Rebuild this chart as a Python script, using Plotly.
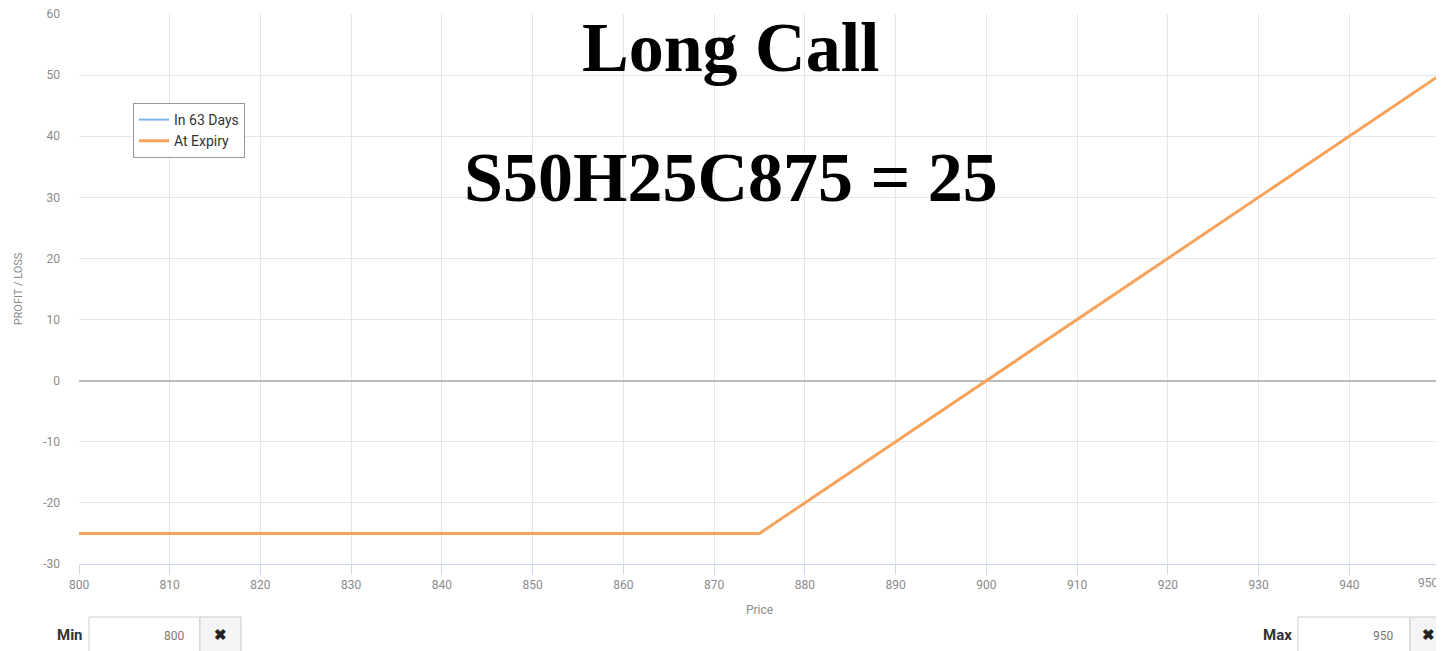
import plotly.graph_objects as go

# at-expiry payoff of the long call, strike 875, premium 25
price = [800, 875, 950]
at_expiry = [-25, -25, 50]
x_ticks = [800, 810, 820, 830, 840, 850, 860, 870, 880, 890, 900, 910, 920, 930, 940, 950]
x_tick_text = [str(v) for v in x_ticks]
y_ticks = [-30, -20, -10, 0, 10, 20, 30, 40, 50, 60]
y_tick_text = ["-30", "-20", "-10", "0", "10", "20", "30", "40", "50", "60"]

# the page body has an 8px margin, so the figure sits at (8, 8) in the window
OFF = 8
W, H = 1444 - OFF, 651 - OFF
L, R, T, B = 79 - OFF, 4, 14 - OFF, 87
PW, PH = W - L - R, H - T - B

narrow = "Liberation Sans Narrow, Arial Narrow, Roboto, sans-serif"
tick_font = dict(family=narrow, size=12, color="#8a8a8a")


def pxx(x):
    # window pixel -> paper fraction
    return (x - OFF - L) / PW


def pxy(y):
    return 1 - (y - OFF - T) / PH


fig = go.Figure()

fig.add_trace(go.Scatter(
    x=[None], y=[None],
    name="In 63 Days",
    mode="lines",
    line=dict(color="#7cb5ec", width=2),
))
fig.add_trace(go.Scatter(
    x=price, y=at_expiry,
    name="At Expiry",
    mode="lines",
    line=dict(color="#f7a35c", width=3),
))

fig.update_layout(
    width=W, height=H,
    margin=dict(l=L, r=R, t=T, b=B),
    plot_bgcolor="white",
    paper_bgcolor="white",
    showlegend=True,
    legend=dict(
        x=pxx(133), y=pxy(103), xanchor="left", yanchor="top",
        bordercolor="#999999", borderwidth=1, bgcolor="white",
        font=dict(family=narrow, size=14, color="#333333"),
        tracegroupgap=0, itemwidth=30,
    ),
)

title_font = dict(family="Liberation Serif, Times New Roman, serif", size=70, color="black")
fig.add_annotation(text="<b>Long Call</b>", x=pxx(731), y=pxy(48), xref="paper", yref="paper",
                   xanchor="center", yanchor="middle", showarrow=False, font=title_font)
fig.add_annotation(text="<b>S50H25C875 = 25</b>", x=pxx(731), y=pxy(178), xref="paper", yref="paper",
                   xanchor="center", yanchor="middle", showarrow=False, font=title_font)

# last x label is pulled inside the edge, like the original chart does
fig.add_annotation(text=x_tick_text[-1], x=x_ticks[-1], xref="x", xanchor="right",
                   y=pxy(583), yref="paper", yanchor="middle", showarrow=False, font=tick_font)

fig.update_xaxes(
    range=[800, 950],
    tickvals=x_ticks[:-1], ticktext=x_tick_text[:-1],
    tickfont=tick_font, ticklabeloverflow="allow",
    showgrid=True, gridcolor="#e6e6e6", gridwidth=1,
    showline=True, linecolor="#ccd6eb", linewidth=1,
    ticks="outside", ticklen=10, tickcolor="#ccd6eb",
    zeroline=False, automargin=False,
    title=dict(text="Price", font=dict(family=narrow, size=12, color="#8a8a8a"), standoff=14),
)
fig.update_yaxes(
    range=[-30, 60],
    tickvals=y_ticks, ticktext=y_tick_text,
    tickfont=tick_font, ticklabeloverflow="allow",
    showgrid=True, gridcolor="#e6e6e6", gridwidth=1,
    zeroline=True, zerolinecolor="#bbbbbb", zerolinewidth=2,
    ticks="", ticklabelstandoff=18, automargin=False,
    title=dict(text="PROFIT / LOSS", font=dict(family=narrow, size=11, color="#8a8a8a"), standoff=18),
)

# gridline and tick at the right edge
fig.add_vline(x=x_ticks[-1], line=dict(color="#e6e6e6", width=1))

# Min / Max input boxes under the chart
boxes = [
    (89, 617, 200, 660, "white"), (200, 617, 241, 660, "#f4f4f4"),
    (1298, 617, 1410, 660, "white"), (1410, 617, 1450, 660, "#f4f4f4"),
]
for x0, y0, x1, y1, c in boxes:
    fig.add_shape(type="rect", line=dict(color="#cccccc", width=1), fillcolor=c,
                  x0=pxx(x0), x1=pxx(x1), y0=pxy(y1), y1=pxy(y0), xref="paper", yref="paper")

labels = [
    ("<b>Min</b>", 70, 635, "#333333", 15, "center"),
    ("800", 186, 636, "#777777", 12, "right"),
    ("<b>✖</b>", 220, 635, "#222222", 15, "center"),
    ("<b>Max</b>", 1277, 635, "#333333", 15, "center"),
    ("950", 1395, 636, "#777777", 12, "right"),
    ("<b>✖</b>", 1428, 635, "#222222", 15, "center"),
]
for text, x, y, color, size, anchor in labels:
    fig.add_annotation(text=text, x=pxx(x), y=pxy(y), xref="paper", yref="paper",
                       xanchor=anchor, yanchor="middle", showarrow=False,
                       font=dict(family=narrow, size=size, color=color))

fig.write_html("out.html")
